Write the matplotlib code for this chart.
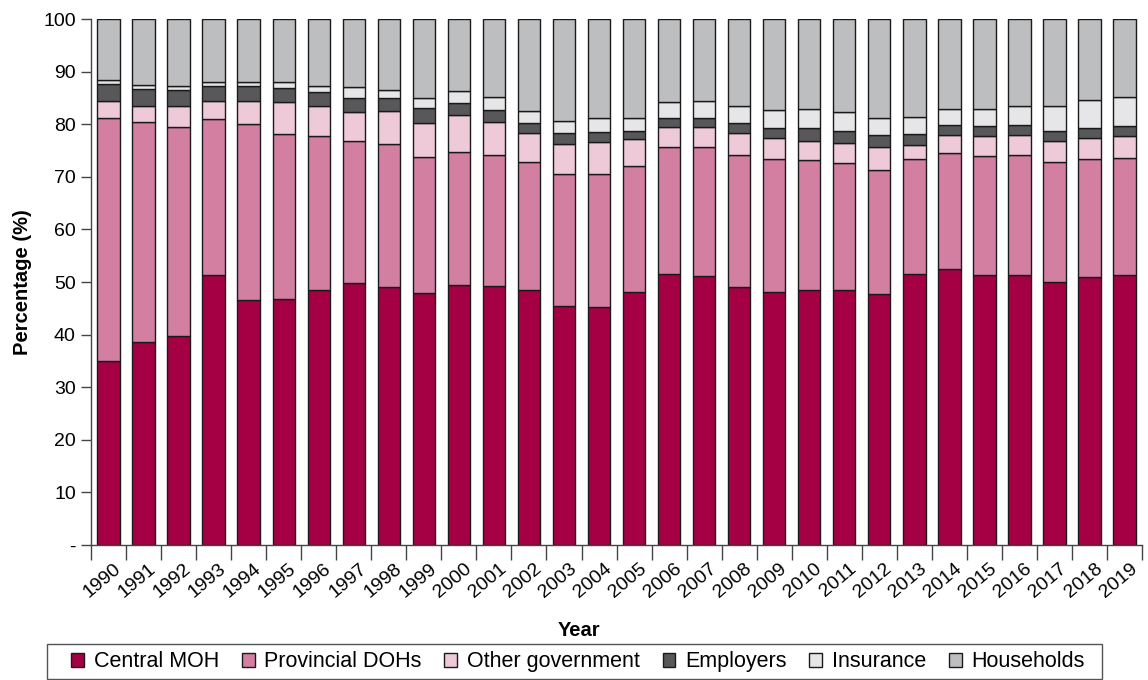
import numpy as np
import matplotlib
matplotlib.use('Agg')
import matplotlib.pyplot as plt
import matplotlib.transforms as mtransforms
from matplotlib.patches import Patch, Rectangle

plt.rcParams['font.family'] = ['Liberation Sans', 'DejaVu Sans']

years = [str(y) for y in range(1990, 2020)]

# shares of total health spending (%)
central_moh = [35.0, 38.6, 39.8, 51.4, 46.6, 46.8, 48.5, 49.8, 49.1, 47.9,
               49.4, 49.2, 48.4, 45.4, 45.2, 48.1, 51.6, 51.1, 49.1, 48.1,
               48.4, 48.5, 47.8, 51.6, 52.5, 51.4, 51.3, 50.0, 50.9, 51.4]
provincial_dohs = [46.2, 41.9, 39.7, 29.6, 33.4, 31.4, 29.2, 27.0, 27.1, 25.9,
                   25.3, 25.0, 24.5, 25.2, 25.3, 24.0, 24.1, 24.6, 25.0, 25.3,
                   24.8, 24.1, 23.5, 21.7, 22.0, 22.5, 22.8, 22.9, 22.4, 22.2]
other_gov = [3.2, 3.0, 4.0, 3.5, 4.5, 6.0, 5.7, 5.6, 6.4, 6.4,
             7.0, 6.2, 5.4, 5.6, 6.2, 5.0, 3.8, 3.8, 4.2, 4.0,
             3.7, 3.9, 4.3, 2.7, 3.4, 3.9, 3.8, 4.0, 4.1, 4.1]
employers = [3.2, 3.2, 3.1, 2.8, 2.7, 2.6, 2.7, 2.5, 2.4, 2.8,
             2.3, 2.4, 2.0, 2.1, 1.9, 1.7, 1.6, 1.7, 1.9, 1.9,
             2.4, 2.3, 2.3, 2.1, 1.9, 1.9, 1.9, 1.9, 1.9, 1.9]
insurance = [0.8, 0.8, 0.7, 0.8, 0.9, 1.2, 1.2, 2.1, 1.6, 1.9,
             2.4, 2.3, 2.3, 2.4, 2.5, 2.4, 3.1, 3.2, 3.2, 3.4,
             3.6, 3.5, 3.3, 3.3, 3.1, 3.2, 3.7, 4.7, 5.3, 5.6]
households = [11.6, 12.5, 12.7, 11.9, 11.9, 12.0, 12.7, 13.0, 13.4, 15.1,
              13.6, 14.9, 17.4, 19.3, 18.9, 18.8, 15.8, 15.6, 16.6, 17.3,
              17.1, 17.7, 18.8, 18.6, 17.1, 17.1, 16.5, 16.5, 15.4, 14.8]

labels = ['Central MOH', 'Provincial DOHs', 'Other government',
          'Employers', 'Insurance', 'Households']
colors = ['#A50044', '#D27FA2', '#EEC9D8', '#58585A', '#E6E6E8', '#BDBEC0']
series = [central_moh, provincial_dohs, other_gov, employers, insurance, households]

fig = plt.figure(figsize=(11.48, 6.8), dpi=100)
ax = fig.add_axes([0.0793, 0.1985, 0.9155, 0.7735])

x = np.arange(len(years))
bottom = np.zeros(len(years))
for vals, col in zip(series, colors):
    ax.bar(x, vals, width=0.64, bottom=bottom, color=col,
           edgecolor='#1a1a1a', linewidth=1.0)
    bottom += np.array(vals)

ax.set_xlim(-0.5, len(years) - 0.5)
ax.set_ylim(0, 100)

ax.set_yticks(range(0, 101, 10))
ax.set_yticklabels(['-'] + [str(v) for v in range(10, 101, 10)], fontsize=14)
ax.tick_params(axis='y', length=7, width=1, color='#444444', pad=4)

ax.set_xticks(x)
ax.set_xticklabels(years, rotation=40, ha='right', va='top',
                   rotation_mode='anchor', fontsize=14)
ax.tick_params(axis='x', which='major', length=0, pad=11)
offset = mtransforms.ScaledTranslation(0.05, 0, fig.dpi_scale_trans)
for lab in ax.get_xticklabels():
    lab.set_transform(lab.get_transform() + offset)
ax.set_xticks(np.arange(-0.5, len(years)), minor=True)
ax.tick_params(axis='x', which='minor', length=11, width=1, color='#444444')

for s in ['top', 'right']:
    ax.spines[s].set_visible(False)
for s in ['left', 'bottom']:
    ax.spines[s].set_color('#444444')
    ax.spines[s].set_linewidth(1)

ax.set_ylabel('Percentage (%)', fontsize=14.5, fontweight='bold', labelpad=8)
fig.text(0.504, 0.073, 'Year', fontsize=14.5, fontweight='bold',
         ha='center', va='center')

# legend without its own frame, box drawn separately (wider side padding)
handles = [Patch(facecolor=c, edgecolor='#1a1a1a', linewidth=1, label=l)
           for c, l in zip(colors, labels)]
fig.legend(handles=handles, loc='center', bbox_to_anchor=(0.5035, 0.0265),
           ncol=6, fontsize=15.5, frameon=False,
           handlelength=0.6, handleheight=0.6,
           handletextpad=0.45, columnspacing=1.05, borderpad=0.0)
fig.patches.append(Rectangle((47 / 1148, 1 - 679 / 680), (1102 - 47) / 1148, 35 / 680,
                             transform=fig.transFigure, fill=False,
                             edgecolor='#555555', linewidth=1))

fig.savefig('out.png', dpi=100)
